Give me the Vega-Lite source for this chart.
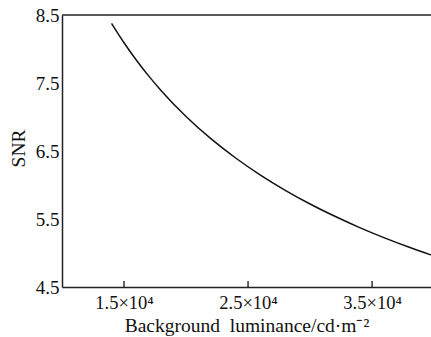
{
  "$schema": "https://vega.github.io/schema/vega-lite/v6.json",
  "width": 369,
  "height": 272,
  "autosize": {"type": "none"},
  "padding": {"left": 62, "top": 15, "right": 0, "bottom": 50},
  "background": "white",
  "config": {
    "view": {"stroke": null},
    "axis": {"labelFont": "Liberation Serif", "titleFont": "Liberation Serif", "labelColor": "#111", "titleColor": "#111", "domainColor": "#222", "tickColor": "#222", "grid": false}
  },
  "datasets": {
    "curve": [
      {"L": 14000, "SNR": 8.376},
      {"L": 15000, "SNR": 8.092},
      {"L": 16000, "SNR": 7.835},
      {"L": 17000, "SNR": 7.601},
      {"L": 18000, "SNR": 7.387},
      {"L": 20000, "SNR": 7.007},
      {"L": 22000, "SNR": 6.681},
      {"L": 24000, "SNR": 6.397},
      {"L": 26000, "SNR": 6.146},
      {"L": 28000, "SNR": 5.922},
      {"L": 30000, "SNR": 5.721},
      {"L": 32000, "SNR": 5.540},
      {"L": 34000, "SNR": 5.374},
      {"L": 36000, "SNR": 5.223},
      {"L": 38000, "SNR": 5.084},
      {"L": 39750, "SNR": 4.971}
    ],
    "tickvals": [{"L": 15000}, {"L": 25000}, {"L": 35000}]
  },
  "encoding": {
    "x": {
      "field": "L", "type": "quantitative",
      "scale": {"domain": [10000, 39750], "nice": false, "zero": false},
      "axis": {
        "values": [15000, 25000, 35000],
        "labelExpr": "datum.value == 15000 ? '1.5×10⁴' : datum.value == 25000 ? '2.5×10⁴' : '3.5×10⁴'",
        "labelFontSize": 18.5, "labelPadding": 6, "ticks": false,
        "domainWidth": 1.5,
        "title": "Background\u00a0\u00a0luminance/cd·m⁻²", "titleFontSize": 19.5, "titleFontWeight": "normal",
        "titleY": 44, "titleBaseline": "alphabetic"
      }
    }
  },
  "layer": [
    {
      "data": {"name": "curve"},
      "mark": {"type": "line", "color": "#111", "strokeWidth": 1.5, "interpolate": "monotone", "clip": true},
      "encoding": {
        "y": {
          "field": "SNR", "type": "quantitative",
          "scale": {"domain": [4.5, 8.5], "nice": false, "zero": false},
          "axis": {
            "values": [4.5, 5.5, 6.5, 7.5, 8.5],
            "format": ".1f", "ticks": false, "labelPadding": 3, "labelFontSize": 19,
            "labelFlush": false, "labelOverlap": false,
            "domainWidth": 1.5,
            "title": "SNR", "titleFontSize": 19.5, "titleFontWeight": "normal",
            "titleX": -44, "titleY": 133, "titleAngle": -90, "titleAlign": "center", "titleBaseline": "middle"
          }
        }
      }
    },
    {
      "data": {"name": "tickvals"},
      "mark": {"type": "rule", "color": "#111", "strokeWidth": 1.3, "y2Offset": -6},
      "encoding": {"y": {"datum": 4.5}, "y2": {"datum": 4.5}}
    },
    {
      "data": {"values": [{}]},
      "mark": {"type": "rule", "color": "#222", "strokeWidth": 1.5},
      "encoding": {"y": {"datum": 8.5}, "x": null}
    }
  ]
}
